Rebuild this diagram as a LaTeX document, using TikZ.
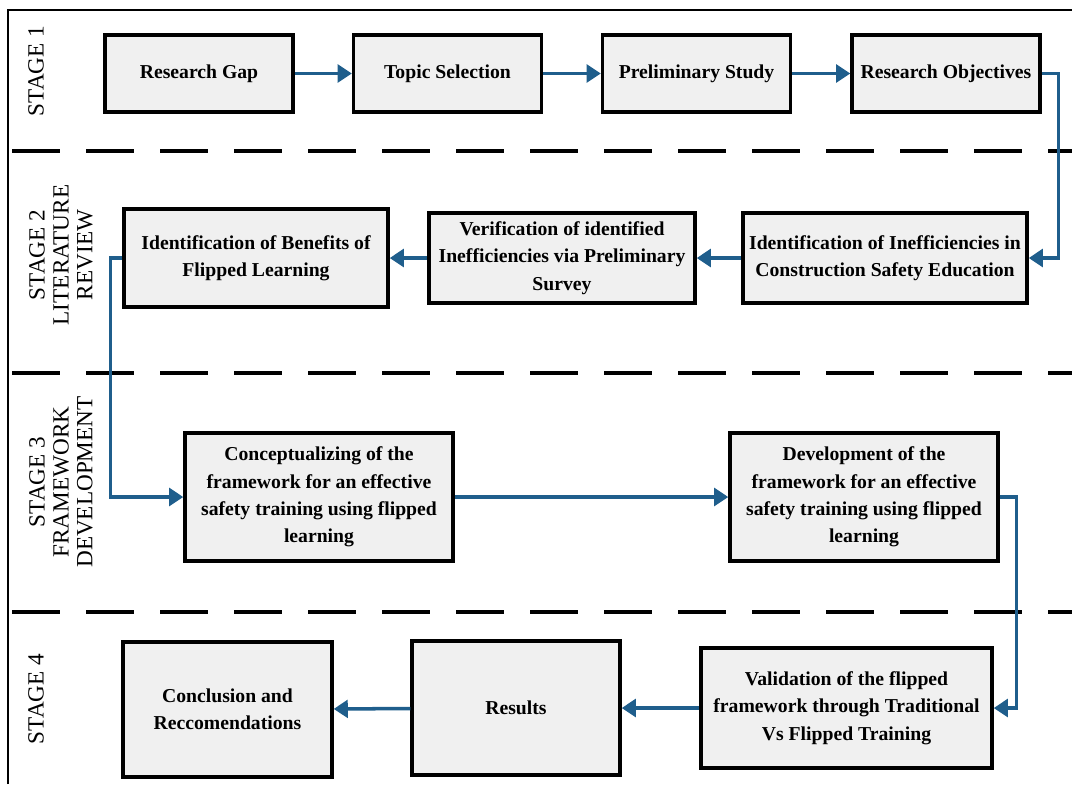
\documentclass[tikz,border=0pt]{standalone}
\usepackage{fontspec}
\setmainfont{Liberation Serif}
\usetikzlibrary{positioning,arrows.meta}

\definecolor{flowblue}{RGB}{31,94,140}
\definecolor{boxgray}{RGB}{240,240,240}

\begin{document}
\begin{tikzpicture}[x=0.025cm, y=-0.025cm,
    stepbox/.style={rectangle, draw=black, line width=2.4pt, fill=boxgray,
        align=center, inner sep=2pt, font=\fontsize{14}{19.5}\selectfont\bfseries},
    stagelabel/.style={rotate=90, align=center, inner sep=0pt,
        font=\fontsize{16.5}{17}\selectfont},
    divider/.style={line width=2.2pt, dash pattern=on 1.2cm off 0.65cm},
    flow/.style={->, draw=flowblue, line width=2.5pt,
        >={Triangle[length=10pt, width=12.5pt]}},
    frameline/.style={line width=1.5pt}
]
\useasboundingbox (0,0) rectangle (1072,784);

% frame and stage dividers
\draw [frameline] (8,784) -- (8,10) -- (1072,10);
\foreach \yy in {151,373,612}
    \draw [divider] (12,\yy) -- (1072,\yy);

% stage labels
\node [stagelabel] (s1) at (36,71) {STAGE 1};
\node [stagelabel] (s2) at (61,255) {STAGE 2\\LITERATURE\\REVIEW};
\node [stagelabel] (s3) at (61,482) {STAGE 3\\FRAMEWORK\\DEVELOPMENT};
\node [stagelabel] (s4) at (36,699) {STAGE 4};

% stage 1
\node [stepbox, minimum width=4.7cm, minimum height=1.925cm] (rg) at (199,73.5) {Research Gap};
\node [stepbox, minimum width=4.7cm, minimum height=1.925cm] (ts) at (447.5,73.5) {Topic Selection};
\node [stepbox, minimum width=4.7cm, minimum height=1.925cm] (ps) at (696.5,73.5) {Preliminary Study};
\node [stepbox, minimum width=4.7cm, minimum height=1.925cm] (ro) at (946,73.5) {Research Objectives};

% stage 2
\node [stepbox, minimum width=6.6cm, minimum height=2.45cm] (ib) at (256,258)
    {Identification of Benefits of\\Flipped Learning};
\node [stepbox, minimum width=6.65cm, minimum height=2.25cm] (vf) at (562,258)
    {Verification of identified\\Inefficiencies via Preliminary\\Survey};
\node [stepbox, minimum width=7.1cm, minimum height=2.25cm] (ie) at (885,258)
    {Identification of Inefficiencies in\\Construction Safety Education};

% stage 3
\node [stepbox, minimum width=6.7cm, minimum height=3.2cm] (cf) at (319,497)
    {Conceptualizing of the\\framework for an effective\\safety training using flipped\\learning};
\node [stepbox, minimum width=6.7cm, minimum height=3.2cm] (df) at (864,497)
    {Development of the\\framework for an effective\\safety training using flipped\\learning};

% stage 4
\node [stepbox, minimum width=5.225cm, minimum height=3.375cm] (cr) at (227.5,709.5)
    {Conclusion and\\Reccomendations};
\node [stepbox, minimum width=5.2cm, minimum height=3.35cm] (rs) at (516,708) {Results};
\node [stepbox, minimum width=7.275cm, minimum height=3.0cm] (vd) at (846.5,708)
    {Validation of the flipped\\framework through Traditional\\Vs Flipped Training};

% connectors
\draw [flow] (rg) -- (ts);
\draw [flow] (ts) -- (ps);
\draw [flow] (ps) -- (ro);
\draw [flow] (ro.east) -- ++(17,0) |- (ie.east);
\draw [flow] (ie) -- (vf);
\draw [flow] (vf) -- (ib);
\draw [flow] (ib.west) -- ++(-12,0) |- (cf.west);
\draw [flow] (cf) -- (df);
\draw [flow] (df.east) -- ++(17,0) |- (vd.east);
\draw [flow] (vd) -- (rs);
\draw [flow] (rs) -- (cr);

\end{tikzpicture}
\end{document}
